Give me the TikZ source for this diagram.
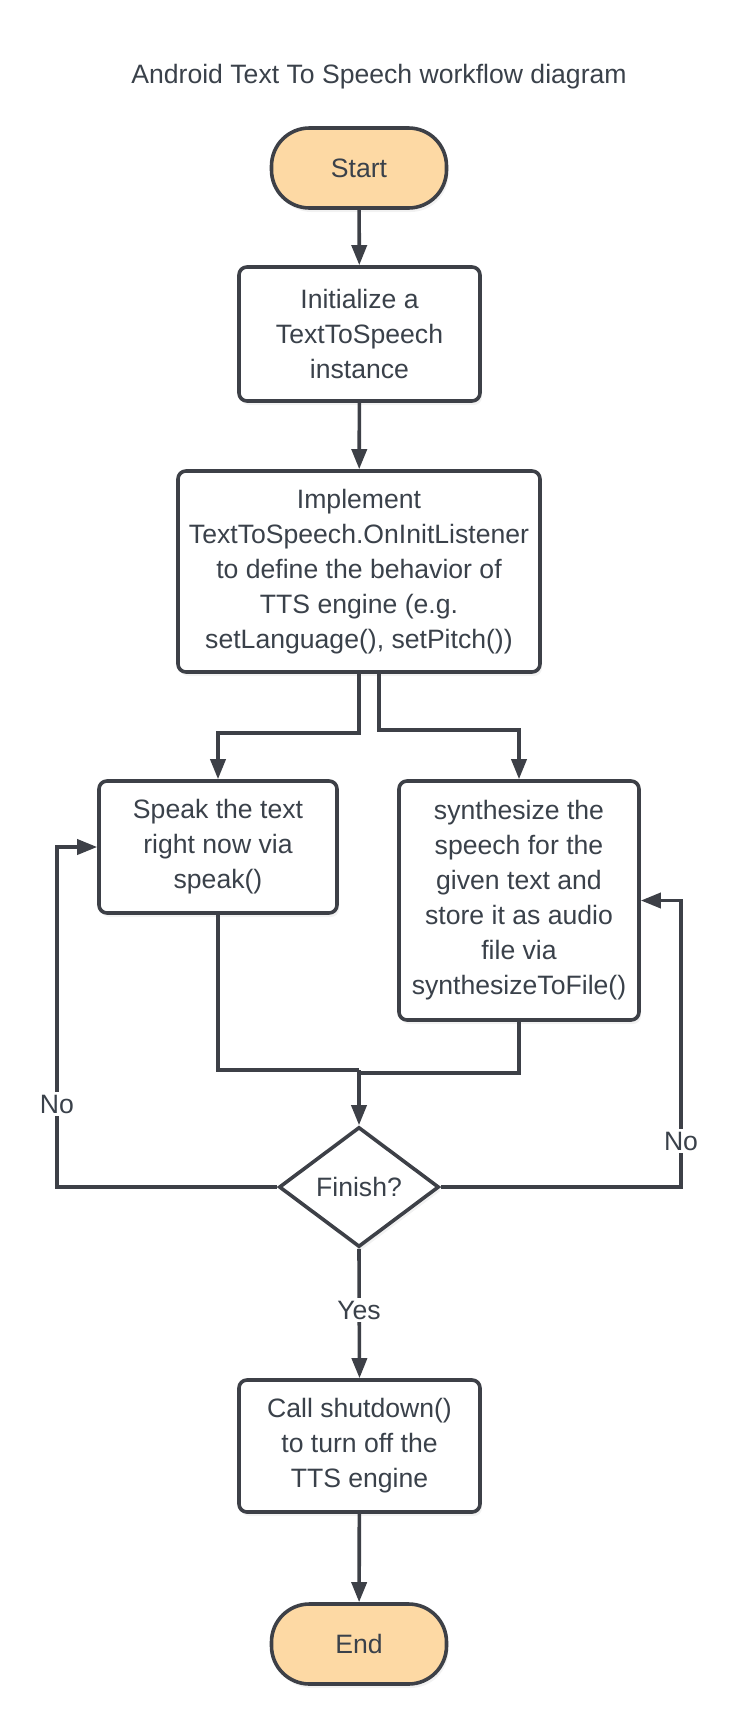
\documentclass[tikz,border=0pt]{standalone}
\usepackage{fontspec}
\setmainfont{Liberation Sans}
\usetikzlibrary{arrows.meta,shapes.geometric,shadows}
\definecolor{ink}{HTML}{3D4047}
\definecolor{txt}{HTML}{3A414A}
\definecolor{term}{HTML}{FDD9A4}
\begin{document}
\begin{tikzpicture}[x=1pt,y=-1pt]
\tikzstyle{every node}=[font=\fontsize{26.6}{35}\selectfont,text=txt,align=center,inner sep=0pt];
\tikzstyle{shade}=[drop shadow={opacity=0.10,shadow xshift=2pt,shadow yshift=-4pt}];
\tikzstyle{terminal}=[draw=ink,line width=3.6pt,fill=term,rounded corners=38pt,minimum width=175pt,minimum height=80pt,shade];
\tikzstyle{process}=[draw=ink,line width=3.6pt,fill=white,rounded corners=8pt,shade];
\tikzstyle{decision}=[draw=ink,line width=3.6pt,fill=white,shape=diamond,aspect=1.33,minimum width=160pt,minimum height=120pt,shade];
\tikzstyle{line}=[draw=ink,line width=3.6pt];
\tikzstyle{arrow}=[line,-{Triangle[length=20pt,width=15pt]}];
\tikzstyle{tag}=[fill=white,inner sep=3pt];

\useasboundingbox (0,0) rectangle (738,1716);

  \node (title) at (379,77) {Android Text To Speech workflow diagram};

  \node[terminal] (start) at (359,168) {Start};
  \node[process,minimum width=241pt,minimum height=134pt] (init) at (359.5,334) {Initialize a\\TextToSpeech\\instance};
  \node[process,minimum width=362pt,minimum height=201pt] (impl) at (359,571.5) {Implement\\TextToSpeech.OnInitListener\\to define the behavior of\\TTS engine (e.g.\\setLanguage(), setPitch())};

  \node[process,minimum width=238pt,minimum height=132pt] (speak) at (218,847) {Speak the text\\right now via\\speak()};
  \node[process,minimum width=240pt,minimum height=239pt] (synth) at (519,900.5) {synthesize the\\speech for the\\given text and\\store it as audio\\file via\\synthesizeToFile()};

  \node[decision] (finish) at (359,1187) {Finish?};
  \node[process,minimum width=241pt,minimum height=132pt] (shutdown) at (359.5,1446) {Call shutdown()\\to turn off the\\TTS engine};
  \node[terminal] (end) at (359,1644) {End};

  \coordinate (joinL) at (359,1070);
  \coordinate (joinR) at (359,1073);
  \coordinate (noleft) at (57,1187);
  \coordinate (noright) at (681,1187);

\foreach \from/\to in {start/init, init/impl, shutdown/end}
\draw [arrow] (\from) -- (\to);

\draw[arrow] (impl.south) -- ++(0,59) -| (speak.north);
\draw[arrow] ([xshift=20pt]impl.south) -- ++(0,56) -| (synth.north);

\draw[line] (speak.south) |- (joinL);
\draw[line] (synth.south) |- (joinR);
\draw[arrow] (joinL) -- (finish.north);

\draw[arrow] (finish.west) -- (noleft) |- (speak.west);
\draw[arrow] (finish.east) -- (noright) |- (synth.east);
\draw[arrow] (finish.south) -- (shutdown.north);

  \node[tag] (nol) at (57,1104) {No};
  \node[tag] (nor) at (681,1141) {No};
  \node[tag] (yes) at (359,1310) {Yes};
    
\end{tikzpicture}
\end{document}
